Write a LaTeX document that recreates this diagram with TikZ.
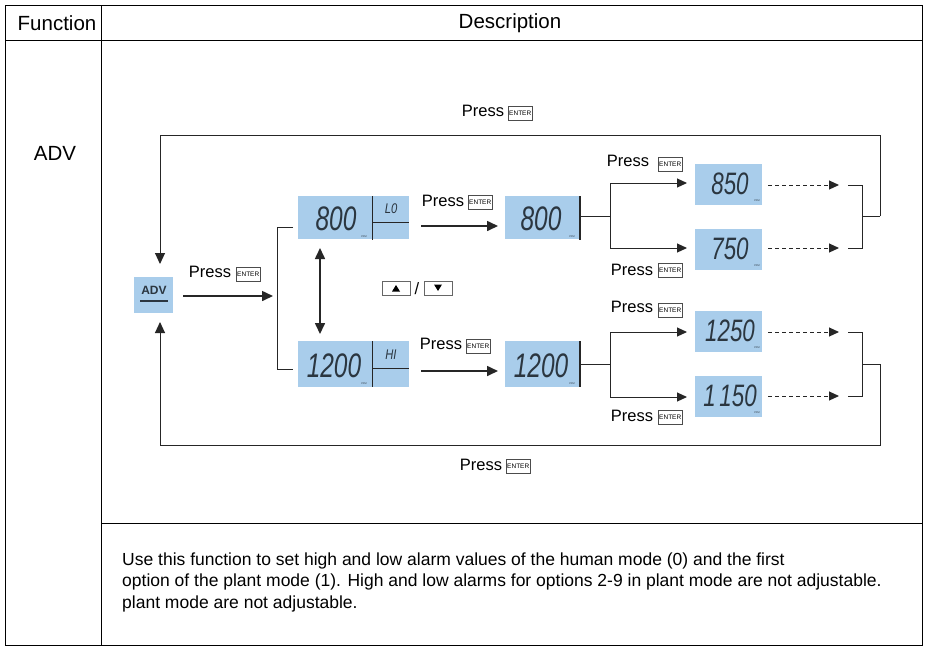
\documentclass[tikz,border=0pt]{standalone}
\usepackage{fontspec}
\setmainfont{Liberation Sans}
\usetikzlibrary{arrows.meta}
\definecolor{lcd}{HTML}{A9CDEB}
\definecolor{seg}{HTML}{2B3640}
\begin{document}
\begin{tikzpicture}[x=1pt,y=-1pt,
  ln/.style={line width=1.6pt,draw=black!85},
  arr/.style={ln,-{Triangle[length=11pt,width=10pt]}},
  thin/.style={line width=1pt,draw=black!85},
  tarr/.style={thin,-{Triangle[length=10pt,width=9pt]}},
  darr/.style={thin,dash pattern=on 4pt off 3pt,-{Triangle[length=10pt,width=9pt]}},
  lcdbox/.style={fill=lcd,draw=none,inner sep=0pt,minimum width=#1,minimum height=43pt},
  digits/.style={font=\fontsize{34}{34}\selectfont\itshape,text=seg,inner sep=0pt,xscale=0.72},
  txt/.style={font=\fontsize{16.5}{18}\selectfont,inner sep=0pt},
  btxt/.style={font=\fontsize{17.5}{20}\selectfont,inner sep=0pt},
  htxt/.style={font=\fontsize{20.5}{22}\selectfont,inner sep=0pt},
  pp/.style={font=\fontsize{2.5}{3}\selectfont,text=seg,inner sep=0pt},
  ent/.style={draw=black!70,line width=0.5pt,minimum width=24pt,minimum height=14pt,inner sep=0pt,font=\fontsize{6.5}{6.5}\selectfont}]
\useasboundingbox (0,0) rectangle (928,649);
\fill[white] (0,0) rectangle (928,649);
% table
\draw[line width=0.9pt] (5,5) rectangle (922,645);
\draw[line width=0.9pt] (5,40) -- (922,40) (101,5) -- (101,645) (101,523) -- (922,523);
\node[htxt] (hf) at (57,23) {Function};
\node[htxt] (hd) at (510,23) {Description};
\node[htxt] (fadv) at (55,153) {ADV};
% ADV
\node[fill=lcd,minimum width=39pt,minimum height=36pt,inner sep=0pt] (adv) at (153.5,295) {};
\node[font=\bfseries\fontsize{12}{12}\selectfont,text=seg,inner sep=0pt] (advt) at (154,290) {ADV};
\draw[line width=1.6pt,seg] (140,301) -- (168,301);
% loops
\coordinate (tr) at (880,216);
\coordinate (br) at (880,364);
\draw[thin,-{Triangle[length=11pt,width=10pt]}] (tr) -- (880,135) -- (160,135) -- (160,264);
\draw[thin,-{Triangle[length=11pt,width=10pt]}] (br) -- (880,445) -- (160,445) -- (160,322);
\node[txt] (p1) at (483,111) {Press};
\node[ent,anchor=west] (e1) at (508,113) {ENTER};
\node[txt] (p2) at (481,465) {Press};
\node[ent,anchor=west] (e2) at (506,466) {ENTER};
% ADV arrow
\draw[arr] (183,296) -- (273,296);
\node[txt] (p3) at (210,272) {Press};
\node[ent,anchor=west] (e3) at (236,274) {ENTER};
% bracket
\draw[thin] (293,227) -- (277,227) -- (277,369) -- (293,369);
% LCD LO
\node[lcdbox=111pt,anchor=north west] (lo) at (298,196) {};
\draw[thin] (372,196) -- (372,240) (372,222) -- (409,222);
\node[digits] (d800a) at (336,219) {800};
\node[font=\itshape\fontsize{14}{14}\selectfont,text=seg,xscale=0.8] (lot) at (391,209) {L0};
\node[pp] at (364,237) {PPM};
% LCD HI
\node[lcdbox=111pt,anchor=north west,minimum height=46pt] (hi) at (298,341) {};
\draw[thin] (372,341) -- (372,387) (372,368) -- (409,368);
\node[digits] (d1200a) at (334,366) {1200};
\node[font=\itshape\fontsize{14}{14}\selectfont,text=seg,xscale=0.8] (hit) at (391,355) {HI};
\node[pp] at (364,384) {PPM};
% double arrow
\draw[ln,{Triangle[length=11pt,width=10pt]}-{Triangle[length=11pt,width=10pt]}] (320,248) -- (320,334);
% buttons
\node[draw=black!60,line width=0.5pt,minimum width=28pt,minimum height=14pt,inner sep=0pt] (up) at (396,288) {};
\fill[black] (392,291.5) -- (400,291.5) -- (396,285) -- cycle;
\node[txt] (sl) at (417,289) {/};
\node[draw=black!60,line width=0.5pt,minimum width=28pt,minimum height=14pt,inner sep=0pt] (dn) at (438,288) {};
\fill[black] (434,284.5) -- (442,284.5) -- (438,291) -- cycle;
% LO/HI arrows
\draw[arr] (421,226) -- (498,226);
\draw[arr] (421,371) -- (498,371);
\node[txt] (p4) at (443,201) {Press};
\node[ent,anchor=west] (e4) at (468,202) {ENTER};
\node[txt] (p5) at (441,344) {Press};
\node[ent,anchor=west] (e5) at (466,346) {ENTER};
% 800 / 1200 screens
\node[lcdbox=74pt,anchor=north west] (s800) at (505,196) {};
\node[digits] at (541,219) {800};
\node[pp] at (572,237) {PPM};
\node[lcdbox=74pt,anchor=north west,minimum height=46pt] (s1200) at (505,341) {};
\node[digits] at (541,366) {1200};
\node[pp] at (572,384) {PPM};
\draw[ln] (580,196) -- (580,240) (580,341) -- (580,387);
% branches
\draw[thin] (580,216) -- (610,216);
\draw[tarr] (610,216) -- (610,183) -- (687,183);
\draw[tarr] (610,216) -- (610,248) -- (687,248);
\draw[thin] (580,364) -- (610,364);
\draw[tarr] (610,364) -- (610,332) -- (687,332);
\draw[tarr] (610,364) -- (610,397) -- (687,397);
\node[txt] (p6) at (628,161) {Press};
\node[ent,anchor=west] (e6) at (658,164) {ENTER};
\node[txt] (p7) at (632,270) {Press};
\node[ent,anchor=west] (e7) at (658,270) {ENTER};
\node[txt] (p8) at (632,307) {Press};
\node[ent,anchor=west] (e8) at (658,310) {ENTER};
\node[txt] (p9) at (632,416) {Press};
\node[ent,anchor=west] (e9) at (658,417) {ENTER};
% small screens
\foreach \n/\y/\t in {a/164/850,b/229/750,c/311/1250,d/376/1\,150}{
  \node[lcdbox=67pt,minimum height=41pt,anchor=north west] (sm\n) at (695,\y) {};
  \node[digits,font=\fontsize{31}{31}\selectfont\itshape] at (730,\y+20) {\t};
  \node[pp] at (757,\y+37) {PPM};
}
% dashed arrows and right brackets
\foreach \y in {185,248,332,396}{\draw[darr] (768,\y) -- (839,\y);}
\draw[thin] (848,185) -- (862,185) -- (862,248) -- (848,248) (862,216) -- (tr);
\draw[thin] (848,332) -- (862,332) -- (862,396) -- (848,396) (862,364) -- (br);
% description
\node[btxt,anchor=west] (l1) at (122,561) {Use this function to set high and low alarm values of the human mode (0) and the first};
\node[btxt,anchor=west] (l2) at (122,582) {option of the plant mode (1). High and low alarms for options 2-9 in plant mode are not adjustable.};
\node[btxt,anchor=west] (l3) at (122,604) {plant mode are not adjustable.};
\end{tikzpicture}
\end{document}
